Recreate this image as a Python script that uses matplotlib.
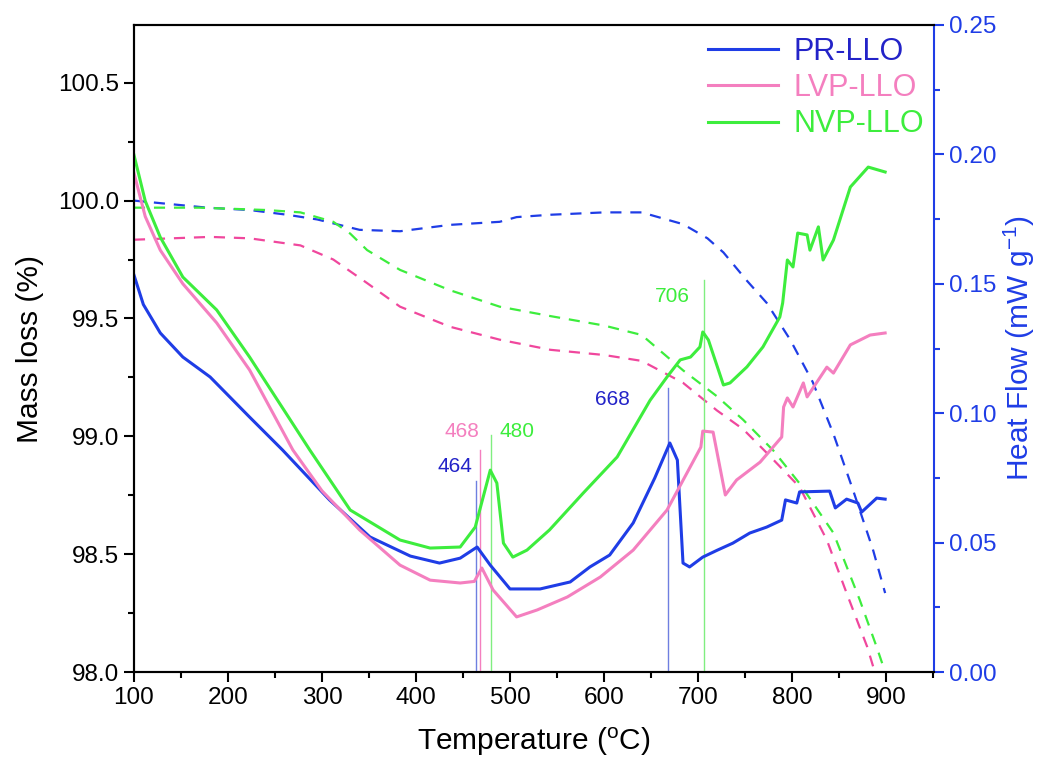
import numpy as np
import matplotlib
matplotlib.use('Agg')
from matplotlib import pyplot as plt

plt.rcParams['font.family'] = ['Liberation Sans', 'DejaVu Sans']
plt.rcParams['mathtext.fontset'] = 'custom'
plt.rcParams['mathtext.rm'] = 'Liberation Sans'
plt.rcParams['mathtext.it'] = 'Liberation Sans:italic'

# heat flow (solid, right axis)
pr_t = [100, 110, 128, 152, 181, 223, 258, 308, 351, 394, 425, 447, 465, 479, 500, 532, 564,
        585, 606, 631, 654, 670, 678, 684, 691, 705, 720, 737, 755, 773, 789, 793, 805,
        808, 840, 846, 858, 870, 874, 890, 899]
pr_hf = [0.1534, 0.1420, 0.1310, 0.1217, 0.1140, 0.0985, 0.0858, 0.0665, 0.0522, 0.0448,
         0.0421, 0.0440, 0.0483, 0.0413, 0.0321, 0.0321, 0.0348, 0.0406, 0.0452, 0.0576,
         0.0750, 0.0885, 0.0819, 0.0421, 0.0406, 0.0444, 0.0470, 0.0498, 0.0537, 0.0560,
         0.0587, 0.0665, 0.0653, 0.0696, 0.0699, 0.0634, 0.0668, 0.0653, 0.0618, 0.0672,
         0.0668]

lvp_t = [100, 112, 128, 152, 188, 223, 269, 300, 340, 383, 415, 447, 462, 470, 482, 507, 529,
         561, 596, 631, 667, 703, 705, 716, 729, 741, 766, 789, 791, 795, 801, 812, 816,
         837, 844, 862, 883, 899]
lvp_hf = [0.1928, 0.1760, 0.1630, 0.1500, 0.1349, 0.1167, 0.0858, 0.0700, 0.0549, 0.0413,
          0.0355, 0.0344, 0.0350, 0.0402, 0.0317, 0.0213, 0.0240, 0.0290, 0.0367, 0.0471,
          0.0626, 0.0869, 0.0931, 0.0927, 0.0684, 0.0742, 0.0811, 0.0908, 0.1024, 0.1059,
          0.1024, 0.1117, 0.1063, 0.1178, 0.1155, 0.1264, 0.1302, 0.1310]

nvp_t = [100, 112, 128, 152, 188, 223, 287, 330, 383, 415, 447, 463, 479, 486, 493, 503, 518,
         542, 578, 614, 649, 667, 681, 692, 702, 705, 711, 727, 734, 752, 769, 787, 790,
         795, 801, 806, 816, 819, 828, 833, 844, 862, 881, 899]
nvp_hf = [0.1998, 0.1820, 0.1680, 0.1526, 0.1399, 0.1217, 0.0858, 0.0626, 0.0510, 0.0479,
          0.0483, 0.0560, 0.0780, 0.0730, 0.0498, 0.0444, 0.0471, 0.0549, 0.0692, 0.0831,
          0.1050, 0.1140, 0.1206, 0.1217, 0.1256, 0.1314, 0.1283, 0.1109, 0.1117, 0.1179,
          0.1256, 0.1372, 0.1426, 0.1592, 0.1565, 0.1696, 0.1689, 0.1630, 0.1720, 0.1592,
          0.1669, 0.1874, 0.1951, 0.1932]

# mass loss (dashed, left axis)
pr_mt = [100, 178, 223, 263, 295, 340, 383, 436, 489, 507, 543, 600, 640, 684, 710, 727,
         752, 773, 798, 822, 844, 865, 886, 899]
pr_m = [100.0, 99.97, 99.96, 99.94, 99.92, 99.876, 99.87, 99.897, 99.91, 99.93, 99.94,
        99.95, 99.95, 99.90, 99.84, 99.78, 99.66, 99.566, 99.41, 99.23, 99.01, 98.77,
        98.52, 98.335]

lvp_mt = [100, 181, 223, 277, 312, 348, 383, 436, 489, 543, 600, 640, 684, 720, 748, 773,
          808, 837, 858, 880, 888]
lvp_m = [99.834, 99.846, 99.84, 99.81, 99.75, 99.65, 99.55, 99.465, 99.41, 99.367, 99.345,
         99.32, 99.227, 99.11, 99.03, 98.93, 98.785, 98.56, 98.335, 98.106, 98.0]

nvp_mt = [100, 170, 241, 277, 312, 330, 348, 383, 436, 489, 543, 600, 640, 684, 720, 748,
          780, 808, 844, 872, 890, 899]
nvp_m = [99.97, 99.97, 99.96, 99.95, 99.91, 99.86, 99.79, 99.706, 99.62, 99.55, 99.51,
         99.47, 99.43, 99.28, 99.17, 99.07, 98.94, 98.80, 98.59, 98.306, 98.106, 98.0]

# peak markers
peaks = [464, 468, 480, 668, 706]
peak_tops = [0.074, 0.0858, 0.0916, 0.1097, 0.1515]
peak_labels = ['464', '468', '480', '668', '706']

blue = '#1f3de6'
pink = '#f47fbf'
pink_d = '#f0479d'
green = '#3ded3d'
dkblue = '#2323c8'

fig = plt.figure(figsize=(10.49, 7.69), dpi=100)
ax = fig.add_axes([0.1277, 0.1261, 0.7627, 0.8414])
ax2 = ax.twinx()

ax.plot(pr_mt, pr_m, '--', color=blue, lw=1.6, dashes=(5, 4))
ax.plot(lvp_mt, lvp_m, '--', color=pink_d, lw=1.6, dashes=(5, 4))
ax.plot(nvp_mt, nvp_m, '--', color=green, lw=1.6, dashes=(5, 4))

pcol = ['#6f7fe0', pink, '#80ee80', '#6f7fe0', '#80ee80']
for p, top, c in zip(peaks, peak_tops, pcol):
    ax2.plot([p, p], [0, top], color=c, lw=1.0)

ax2.plot(pr_t, pr_hf, color=blue, lw=2.2, label='PR-LLO')
ax2.plot(lvp_t, lvp_hf, color=pink, lw=2.2, label='LVP-LLO')
ax2.plot(nvp_t, nvp_hf, color=green, lw=2.2, label='NVP-LLO')

# peak labels
lab_pos = [(441, 0.0773), (449, 0.0908), (507, 0.0908), (609, 0.103), (673, 0.143)]
lab_col = [dkblue, pink, green, dkblue, green]
for (x, y), s, c in zip(lab_pos, peak_labels, lab_col):
    ax2.text(x, y, s, color=c, fontsize=15, ha='center', va='baseline')

ax.set_xlim(100, 951)
ax.set_ylim(98.0, 100.745)
ax2.set_ylim(0, 0.25)

ax.set_xticks(np.arange(100, 901, 100))
ax.set_xticks(np.arange(150, 951, 100), minor=True)
ax.set_yticks([98.0, 98.5, 99.0, 99.5, 100.0, 100.5])
ax.set_yticks([98.25, 98.75, 99.25, 99.75, 100.25], minor=True)
ax.set_yticklabels(['98.0', '98.5', '99.0', '99.5', '100.0', '100.5'])
ax2.set_yticks([0, 0.05, 0.10, 0.15, 0.20, 0.25])
ax2.set_yticklabels(['0.00', '0.05', '0.10', '0.15', '0.20', '0.25'])
ax2.set_yticks([0.025, 0.075, 0.125, 0.175, 0.225], minor=True)

ax.tick_params(axis='both', which='major', direction='out', length=7, width=1.5, labelsize=17.5)
ax.tick_params(axis='both', which='minor', direction='out', length=4, width=1.5)
ax2.tick_params(axis='y', which='major', direction='out', length=7, width=1.5,
                labelsize=17.5, color=blue, labelcolor=blue)
ax2.tick_params(axis='y', which='minor', direction='out', length=4, width=1.5, color=blue)

for s in ['left', 'bottom', 'top']:
    ax.spines[s].set_linewidth(1.5)
    ax2.spines[s].set_linewidth(1.5)
ax2.spines['right'].set_color(blue)
ax2.spines['right'].set_linewidth(1.5)
ax.spines['right'].set_visible(False)

ax.set_xlabel(r'Temperature ($^{\rm o}$C)', fontsize=21.5, labelpad=12)
ax.set_ylabel('Mass loss (%)', fontsize=21.5, labelpad=10)
ax2.set_ylabel(r'Heat Flow (mW g$^{-1}$)', fontsize=21.5, color=blue)

leg = ax2.legend(loc='upper right', bbox_to_anchor=(1.007, 1.005), frameon=False, fontsize=22,
                 handlelength=2.3, handletextpad=0.5, labelspacing=0.2, borderaxespad=0.1)
for t, c in zip(leg.get_texts(), [dkblue, pink, green]):
    t.set_color(c)

fig.savefig('out.png', dpi=100)
